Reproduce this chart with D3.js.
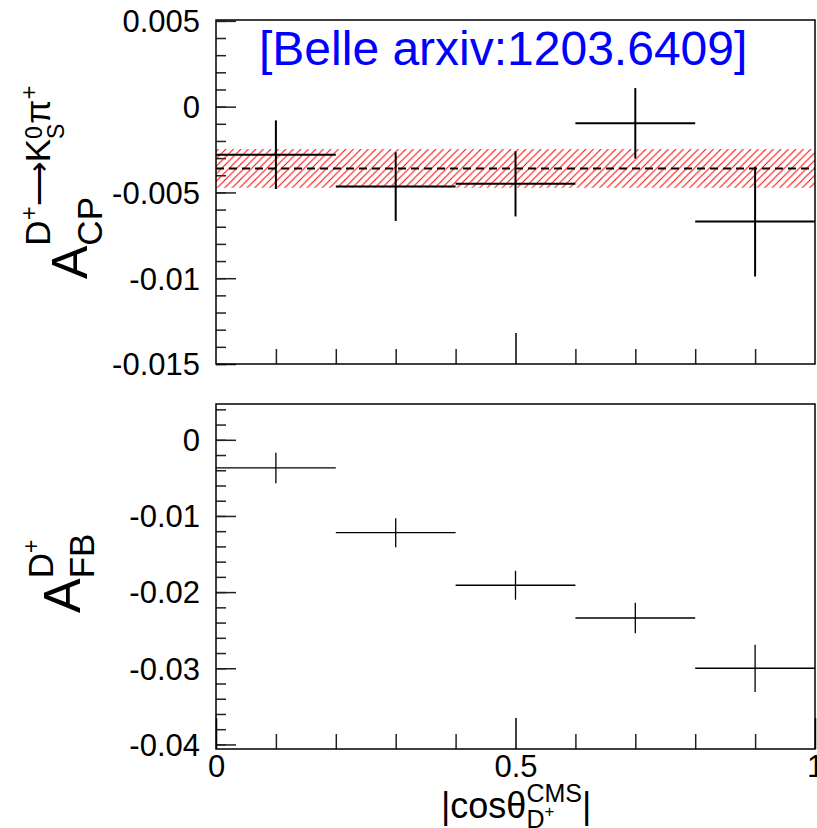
<!DOCTYPE html>
<html>
<head>
<meta charset="utf-8">
<script src="https://cdn.jsdelivr.net/npm/d3@7"></script>
<style>
  body { margin: 0; background: #fff; }
  svg { display: block; font-family: "Liberation Sans", Arial, sans-serif; }
</style>
</head>
<body>
<svg id="chart" width="817" height="828"></svg>
<script>
// bins in |cos theta|
const binEdges = [0, 0.2, 0.4, 0.6, 0.8, 1.0];

// A_CP per bin and its error
const acp = [-0.0028, -0.00466, -0.0045, -0.00097, -0.0067];
const acpErr = [0.0020, 0.0020, 0.0019, 0.00205, 0.0032];
// average A_CP (dashed line) with its band
const acpAvg = -0.0036;
const acpAvgErr = 0.00113;

// A_FB per bin and its error
const afb = [-0.0037, -0.0122, -0.0191, -0.0234, -0.0300];
const afbErr = [0.0020, 0.0019, 0.0019, 0.0020, 0.0031];

const yTicksTop = [-0.015, -0.01, -0.005, 0, 0.005];
const yTicksBottom = [-0.04, -0.03, -0.02, -0.01, 0];
const xTicks = [0, 0.5, 1];

const svg = d3.select('#chart');
const font = '"Liberation Sans", Arial, sans-serif';

const left = 216, right = 815;
const x = d3.scaleLinear().domain([0, 1]).range([left, right]);
const yTop = d3.scaleLinear().domain([-0.015, 0.00505]).range([364, 20]);
const yBot = d3.scaleLinear().domain([-0.0406, 0.0047]).range([749, 404]);

const fmt = d => String(+d.toFixed(4));

// hatch pattern for the band
const defs = svg.append('defs');
const pat = defs.append('pattern')
    .attr('id', 'hatch')
    .attr('patternUnits', 'userSpaceOnUse')
    .attr('width', 7.5)
    .attr('height', 7.5);
pat.append('path')
    .attr('d', 'M-1,1 l2,-2 M0,7.5 l7.5,-7.5 M6.5,8.5 l2,-2')
    .attr('stroke', '#ff0000')
    .attr('stroke-width', 1);

// little TLatex-like layout: pieces with size and baseline shift
function latex(g, pieces) {
    let u = 0, markU = 0, maxEnd = 0;
    pieces.forEach(p => {
        if (p.mark) markU = u;
        if (p.back) u = markU;
        if (p.after) u = maxEnd;
        const t = g.append('text')
            .attr('x', u)
            .attr('y', -(p.v || 0))
            .attr('font-size', p.s)
            .attr('font-family', font)
            .attr('fill', '#000')
            .text(p.t);
        const w = t.node().getComputedTextLength();
        u += w;
        maxEnd = Math.max(maxEnd, u);
    });
}

function drawPanel(y, ticks, minorStep) {
    const g = svg.append('g');
    const [lo, hi] = y.domain();

    // y minor ticks
    const minor = d3.range(Math.ceil(lo / minorStep - 1e-6), Math.floor(hi / minorStep + 1e-6) + 1)
        .map(k => k * minorStep);
    g.append('g')
        .attr('transform', `translate(${left},0)`)
        .call(d3.axisLeft(y).tickValues(minor).tickSize(-10).tickFormat(''))
        .call(a => a.select('.domain').remove())
        .selectAll('line').attr('stroke', '#222').attr('stroke-width', 1.5);

    // y major ticks with labels
    g.append('g')
        .attr('transform', `translate(${left},0)`)
        .call(d3.axisLeft(y).tickValues(ticks).tickSize(-20).tickPadding(16).tickFormat(fmt))
        .call(a => a.select('.domain').remove())
        .call(a => a.selectAll('line').attr('stroke', '#222').attr('stroke-width', 1.5))
        .call(a => a.selectAll('text')
            .attr('font-size', 31).attr('font-family', font).attr('fill', '#000')
            .attr('dy', '0.35em'));

    // x minor ticks
    const bottom = y.range()[0];
    g.append('g')
        .attr('transform', `translate(0,${bottom})`)
        .call(d3.axisBottom(x).tickValues(d3.range(1, 10).filter(k => k !== 5).map(k => k / 10))
            .tickSize(-15).tickFormat(''))
        .call(a => a.select('.domain').remove())
        .selectAll('line').attr('stroke', '#222').attr('stroke-width', 1.5);

    return g;
}

function drawPoints(g, y, vals, errs, lw) {
    const idx = d3.range(vals.length);
    g.selectAll(null).data(idx).enter().append('line')
        .attr('x1', i => x(binEdges[i]))
        .attr('x2', i => x(binEdges[i + 1]))
        .attr('y1', i => y(vals[i]))
        .attr('y2', i => y(vals[i]))
        .attr('stroke', '#000').attr('stroke-width', lw);
    g.selectAll(null).data(idx).enter().append('line')
        .attr('x1', i => x((binEdges[i] + binEdges[i + 1]) / 2))
        .attr('x2', i => x((binEdges[i] + binEdges[i + 1]) / 2))
        .attr('y1', i => y(vals[i] + errs[i]))
        .attr('y2', i => y(vals[i] - errs[i]))
        .attr('stroke', '#000').attr('stroke-width', lw);
}

// ---------- top panel ----------
const gTop = drawPanel(yTop, yTicksTop, 0.001);

gTop.append('g')
    .attr('transform', `translate(0,${yTop.range()[0]})`)
    .call(d3.axisBottom(x).tickValues([0.5]).tickSize(-31).tickFormat(''))
    .call(a => a.select('.domain').remove())
    .selectAll('line').attr('stroke', '#000').attr('stroke-width', 1.5);

// band and average line
gTop.append('rect')
    .attr('x', x(0))
    .attr('y', yTop(acpAvg + acpAvgErr))
    .attr('width', x(1) - x(0))
    .attr('height', yTop(acpAvg - acpAvgErr) - yTop(acpAvg + acpAvgErr))
    .attr('fill', 'url(#hatch)');

gTop.append('line')
    .attr('x1', x(0)).attr('x2', x(1))
    .attr('y1', yTop(acpAvg)).attr('y2', yTop(acpAvg))
    .attr('stroke', '#000')
    .attr('stroke-width', 2)
    .attr('stroke-dasharray', '8,5');

drawPoints(gTop.append('g'), yTop, acp, acpErr, 2);

gTop.append('rect')
    .attr('x', left).attr('y', yTop.range()[1])
    .attr('width', right - left)
    .attr('height', yTop.range()[0] - yTop.range()[1])
    .attr('fill', 'none').attr('stroke', '#000').attr('stroke-width', 1.5);

gTop.append('text')
    .attr('x', 259)
    .attr('y', 65)
    .attr('font-size', 48)
    .attr('font-family', font)
    .attr('fill', '#0000ff')
    .text('[Belle arxiv:1203.6409]');

// y title of top panel
const tTop = svg.append('g').attr('transform', 'translate(87,279) rotate(-90)');
latex(tTop, [
    {t: 'A', s: 50, v: 0},
    {t: 'CP', s: 35, v: -15, mark: true},
    {t: 'D', s: 35, v: 37, back: true},
    {t: '+', s: 24, v: 50},
    {t: '\u27f6', s: 31, v: 38},
    {t: 'K', s: 35, v: 37},
    {t: '0', s: 23, v: 45, mark: true},
    {t: 'S', s: 23, v: 23, back: true},
    {t: '\u03c0', s: 35, v: 37, after: true},
    {t: '+', s: 24, v: 50}
]);

// ---------- bottom panel ----------
const gBot = drawPanel(yBot, yTicksBottom, 0.002);

gBot.append('g')
    .attr('transform', `translate(0,${yBot.range()[0]})`)
    .call(d3.axisBottom(x).tickValues(xTicks).tickSize(-31).tickPadding(6).tickFormat(fmt))
    .call(a => a.select('.domain').remove())
    .call(a => a.selectAll('line').attr('stroke', '#000').attr('stroke-width', 1.5))
    .call(a => a.selectAll('text')
        .attr('font-size', 31).attr('font-family', font).attr('fill', '#000'));

drawPoints(gBot.append('g'), yBot, afb, afbErr, 1.3);

gBot.append('rect')
    .attr('x', left).attr('y', yBot.range()[1])
    .attr('width', right - left)
    .attr('height', yBot.range()[0] - yBot.range()[1])
    .attr('fill', 'none').attr('stroke', '#000').attr('stroke-width', 1.5);

const tBot = svg.append('g').attr('transform', 'translate(80,613) rotate(-90)');
latex(tBot, [
    {t: 'A', s: 52, v: 0},
    {t: 'FB', s: 35, v: -14, mark: true},
    {t: 'D', s: 35, v: 27, back: true},
    {t: '+', s: 23, v: 41}
]);

// x title
const tX = svg.append('g').attr('transform', 'translate(441,818)');
latex(tX, [
    {t: '|cos\u03b8', s: 36, v: 0},
    {t: 'CMS', s: 25, v: 16, mark: true},
    {t: 'D', s: 25, v: -10, back: true},
    {t: '+', s: 17, v: 1},
    {t: '|', s: 36, v: 0, after: true}
]);
</script>
</body>
</html>
